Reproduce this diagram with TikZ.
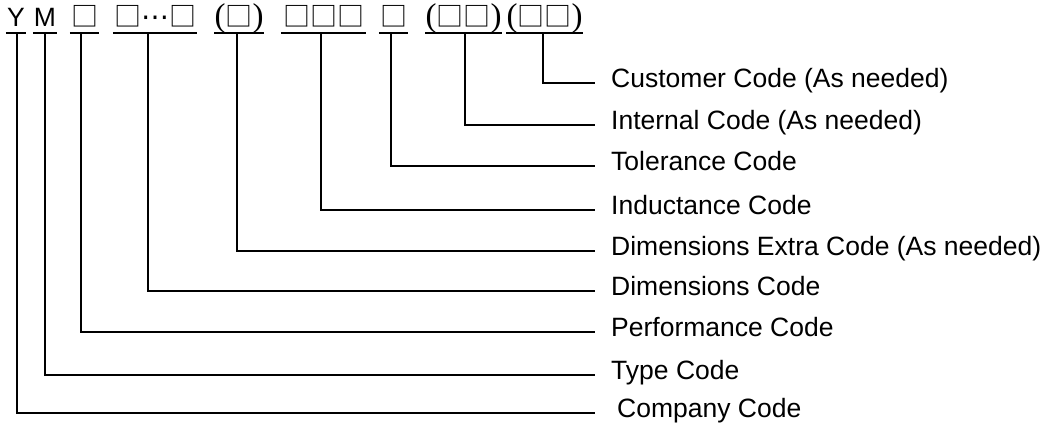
\documentclass[tikz,border=0pt]{standalone}
\usepackage{fontspec}
\setmainfont{Liberation Sans}
\newfontfamily\seriffont{Liberation Serif}
\newfontfamily\symfont{DejaVu Sans}
\newfontfamily\cjk{Noto Sans CJK JP}
\newcommand{\codebox}{{\cjk\fontsize{27}{30}\selectfont □}}
\newcommand{\codedots}{{\symfont\fontsize{28}{30}\selectfont ⋯}}
\newcommand{\lp}{{\seriffont\fontsize{33}{36}\selectfont (}}
\newcommand{\rp}{{\seriffont\fontsize{33}{36}\selectfont )}}

\begin{document}
\begin{tikzpicture}
[x=1pt,y=-1pt,
font=\fontsize{26.5}{30}\selectfont,
code/.style={anchor=base,inner sep=0pt,text depth=6pt,minimum width=#1},
meaning/.style={anchor=west,inner xsep=16pt,inner ysep=0pt,
text height=18pt,text depth=9pt},
bar/.style={line width=1.4pt},
lead/.style={line width=1.2pt}]

\useasboundingbox (0,0) rectangle (1048,430);

% part number
\node [code=20] (y) at (16,27) {Y};
\node [code=24] (m) at (45,27) {M};
\node [code=29] (perf) at (84.5,27) {\codebox};
\node [code=84] (dim) at (155,27) {\codebox\codedots\codebox};
\node [code=28] (dimx) at (239,27) {\lp\codebox\rp};
\node [code=85] (ind) at (323.5,27) {\codebox\codebox\codebox};
\node [code=29] (tol) at (393.5,27) {\codebox};
\node [code=55] (int) at (463.5,27) {\lp\codebox\codebox\rp};
\node [code=57] (cus) at (544.5,27) {\lp\codebox\codebox\rp};

\foreach \g in {y,m,perf,dim,dimx,ind,tol,int,cus}
\draw [bar] (\g.south west) -- (\g.south east);

% meanings
\node [meaning] (lcus) at (595,83) {Customer Code (As needed)};
\node [meaning] (lint) at (595,125) {Internal Code (As needed)};
\node [meaning] (ltol) at (595,166) {Tolerance Code};
\node [meaning] (lind) at (595,210) {Inductance Code};
\node [meaning] (ldimx) at (595,251) {Dimensions Extra Code (As needed)};
\node [meaning] (ldim) at (595,291) {Dimensions Code};
\node [meaning] (lperf) at (595,332) {Performance Code};
\node [meaning] (ltype) at (595,375) {Type Code};
\node [meaning,inner xsep=22pt] (lcomp) at (595,413) {Company Code};

\draw [lead] ([xshift=-1.5pt]cus.south) |- (lcus.west);
\draw [lead] ([xshift=1.5pt]int.south) |- (lint.west);
\draw [lead] ([xshift=-2.5pt]tol.south) |- (ltol.west);
\draw [lead] ([xshift=-2.5pt]ind.south) |- (lind.west);
\draw [lead] ([xshift=-2pt]dimx.south) |- (ldimx.west);
\draw [lead] ([xshift=-7pt]dim.south) |- (ldim.west);
\draw [lead] ([xshift=-3.5pt]perf.south) |- (lperf.west);
\draw [lead] (m.south) |- (ltype.west);
\draw [lead] ([xshift=1pt]y.south) |- (lcomp.west);
\end{tikzpicture}
\end{document}
